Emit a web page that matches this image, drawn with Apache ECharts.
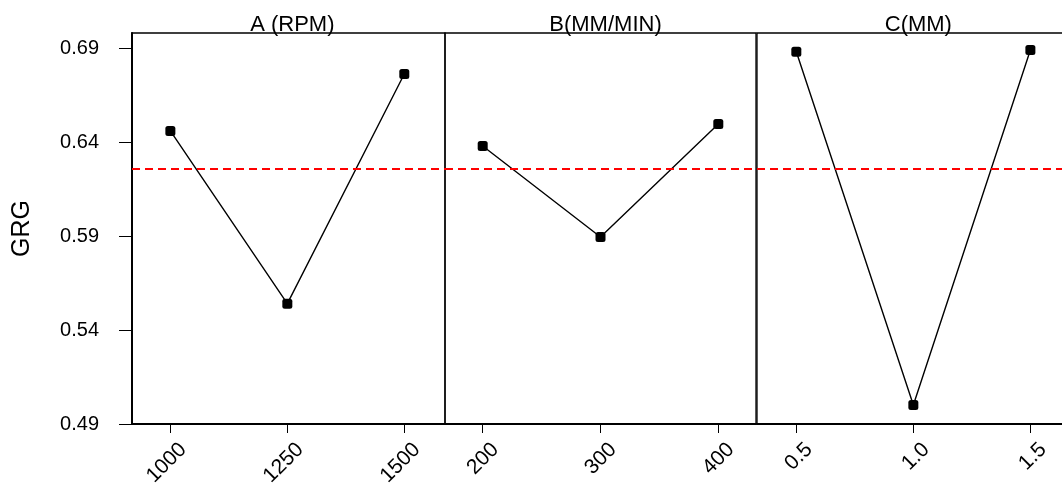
<!DOCTYPE html>
<html>
<head>
<meta charset="utf-8">
<script src="https://cdn.jsdelivr.net/npm/echarts@6/dist/echarts.min.js"></script>
<style>
html,body{margin:0;padding:0;background:#fff;}
#chart{width:1062px;height:483px;}
</style>
</head>
<body>
<div id="chart"></div>
<script>
// ---- data ----
const panelTitles = ['A (RPM)', 'B(MM/MIN)', 'C(MM)'];
const levelsA = [1000, 1250, 1500];
const labelsA = ['1000', '1250', '1500'];
const grgA = [0.6459, 0.5540, 0.6762];
const levelsB = [200, 300, 400];
const labelsB = ['200', '300', '400'];
const grgB = [0.6379, 0.5895, 0.6496];
const levelsC = [0.5, 1.0, 1.5];
const labelsC = ['0.5', '1.0', '1.5'];
const grgC = [0.6880, 0.5001, 0.6890];
const yTicks = [0.49, 0.54, 0.59, 0.64, 0.69];
const yTickLabels = ['0.49', '0.54', '0.59', '0.64', '0.69'];
const grandMean = 0.6257;
const yName = 'GRG';

// ---- layout/styling ----
const FONT = '"Liberation Sans", Arial, sans-serif';
const panels = [
  {levels: levelsA, labels: labelsA, vals: grgA, left: 132, width: 313, min: 918, max: 1587},
  {levels: levelsB, labels: labelsB, vals: grgB, left: 445, width: 311, min: 168, max: 432},
  {levels: levelsC, labels: labelsC, vals: grgC, left: 757, width: 312, min: 0.332, max: 1.665}
];
const yMin = 0.49, yMax = 0.698;

const chart = echarts.init(document.getElementById('chart'), null, {renderer: 'canvas'});

const grids = [], xAxes = [], yAxes = [], series = [], titles = [];
panels.forEach((p, i) => {
  grids.push({left: p.left, width: p.width, top: 33, height: 391, show: true,
    borderColor: '#000', borderWidth: 1.3, backgroundColor: 'transparent',
    containLabel: false, outerBoundsMode: 'none'});
  xAxes.push({
    type: 'value', gridIndex: i, min: p.min, max: p.max,
    splitLine: {show: false},
    axisLine: {show: true, onZero: false, lineStyle: {color: '#000', width: 2}},
    axisTick: {show: true, length: 9, lineStyle: {color: '#000', width: 1}, customValues: p.levels},
    axisLabel: {
      show: true, customValues: p.levels, rotate: 45, fontSize: 21, color: '#000',
      fontFamily: FONT, margin: 35, padding: [0, -18, 0, 0], hideOverlap: false,
      formatter: v => { const k = p.levels.findIndex(l => Math.abs(l - v) < 1e-9); return k >= 0 ? p.labels[k] : ''; }
    }
  });
  yAxes.push({
    type: 'value', gridIndex: i, min: yMin, max: yMax, show: i === 0,
    name: i === 0 ? yName : '', nameLocation: 'middle', nameRotate: 90, nameGap: 97,
    nameTextStyle: {fontSize: 25, color: '#000', fontFamily: FONT},
    splitLine: {show: false},
    axisLine: {show: true, lineStyle: {color: '#000', width: 2}},
    axisTick: {show: true, length: 13, lineStyle: {color: '#000', width: 1}, customValues: yTicks},
    axisLabel: {
      show: true, customValues: yTicks, fontSize: 20, color: '#000', fontFamily: FONT, margin: 33,
      formatter: v => { const k = yTicks.findIndex(t => Math.abs(t - v) < 1e-9); return k >= 0 ? yTickLabels[k] : ''; }
    }
  });
  series.push({
    type: 'line', xAxisIndex: i, yAxisIndex: i,
    data: p.levels.map((x, k) => [x, p.vals[k]]),
    symbol: 'roundRect', symbolSize: 10, showSymbol: true,
    lineStyle: {color: '#000', width: 1.4}, itemStyle: {color: '#000'},
    animation: false, z: 3,
    markLine: {
      silent: true, symbol: ['none', 'none'], label: {show: false}, precision: 6,
      lineStyle: {color: '#ff0000', type: [8, 5], width: 1.8, opacity: 1},
      data: [{yAxis: grandMean}], animation: false
    }
  });
  const c = p.levels[1];
  const cx = p.left + (c - p.min) / (p.max - p.min) * p.width;
  titles.push({text: panelTitles[i], left: cx, top: 9, textAlign: 'center',
    textStyle: {fontSize: 22, fontWeight: 'normal', color: '#000', fontFamily: FONT}});
});

chart.setOption({
  backgroundColor: '#fff',
  animation: false,
  title: titles,
  grid: grids,
  xAxis: xAxes,
  yAxis: yAxes,
  series: series
});
</script>
</body>
</html>
